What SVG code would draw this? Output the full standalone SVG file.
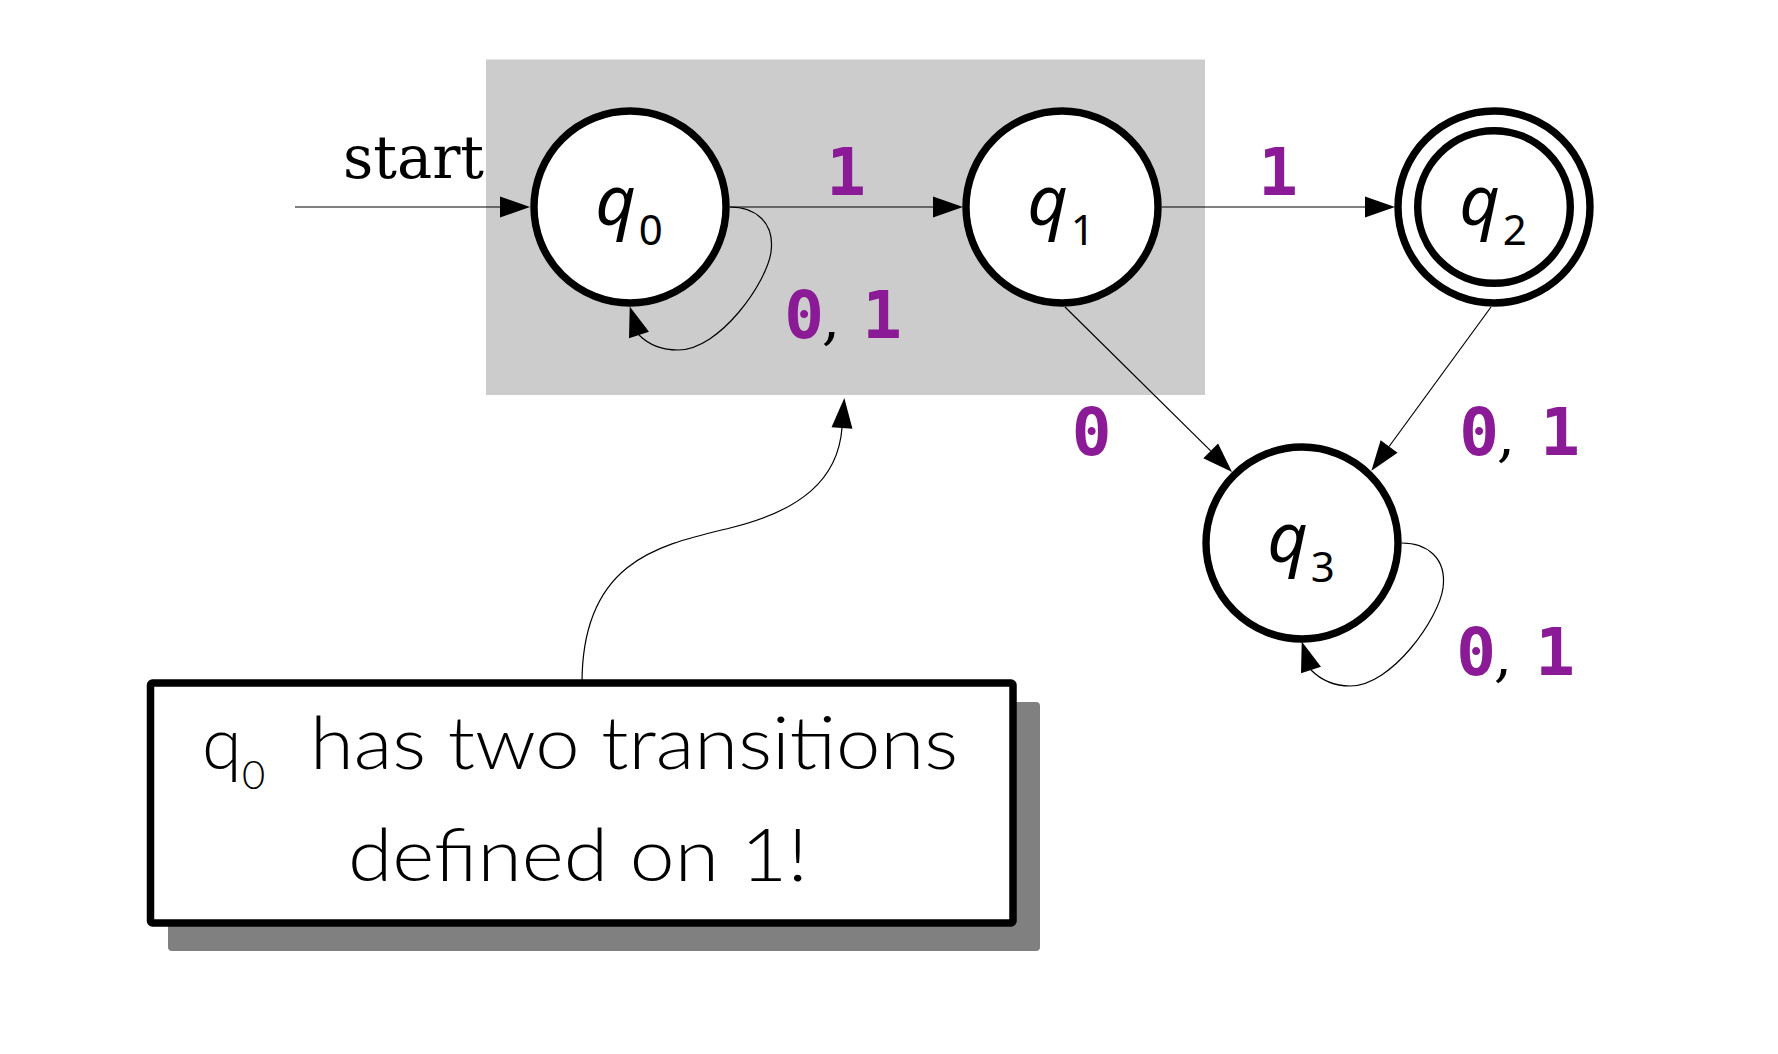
<svg xmlns="http://www.w3.org/2000/svg" width="1778" height="1054" viewBox="0 0 1778 1054">
<style>
.state{fill:#fff;stroke:#000;stroke-width:7.4}
.qlab{font-family:"Noto Sans","DejaVu Sans",sans-serif;font-style:italic;font-size:70px;fill:#000}
.sub{font-style:normal;font-size:42px}
.lbl{font-family:"DejaVu Sans Mono","Liberation Mono",monospace;font-weight:bold;font-size:66px;fill:#8b1a96}
.comma{font-family:"DejaVu Serif","Liberation Serif",serif;font-weight:normal;font-size:58px;fill:#000}
.start{font-family:"DejaVu Serif","Liberation Serif",serif;font-size:59px;fill:#000}
.edge{fill:none;stroke:#000;stroke-width:1.2}
.hand{font-family:Lato,"Open Sans",sans-serif;font-weight:300;font-size:72px;fill:#000}
</style>
<defs>
<marker id="arr" markerUnits="userSpaceOnUse" markerWidth="30" markerHeight="22" viewBox="0 0 30 22" refX="0" refY="11" orient="auto" overflow="visible">
<path d="M0,0.5 L30,11 L0,21.5 Z" fill="#000"/>
</marker>
<marker id="arrLoop" markerUnits="userSpaceOnUse" markerWidth="30" markerHeight="22" viewBox="0 0 30 22" refX="0" refY="11" orient="252" overflow="visible">
<path d="M0,0.5 L30,11 L0,21.5 Z" fill="#000"/>
</marker>
</defs>
<rect width="1778" height="1054" fill="#fff"/>
<rect id="highlight" x="486" y="59.5" width="719" height="335.5" fill="#cccccc"/>

<g id="connectors">
<path class="edge" d="M295,207 H500" marker-end="url(#arr)"/>
<path class="edge" d="M730,207 H933" marker-end="url(#arr)"/>
<path class="edge" d="M1162,207 H1365" marker-end="url(#arr)"/>
<path class="edge" d="M1065,307 L1210.7,450.9" marker-end="url(#arr)"/>
<path class="edge" d="M1491,307 L1389.1,446.5" marker-end="url(#arr)"/>
<path class="edge" d="M729.7,207 C755,207 775,222 771,252 C767,282 720,350 678,350 C660,350 647,343 639,335" marker-end="url(#arrLoop)"/>
<path class="edge" d="M1401.7,543 C1427,543 1447,558 1443,588 C1439,618 1392,686 1350,686 C1332,686 1319,678 1311,670" marker-end="url(#arrLoop)"/>
<path class="edge" d="M582,683 C582,560 660,545 730,528 S838,480 842,428" marker-end="url(#arr)"/>
</g>

<g id="edge-labels">
<text class="lbl" x="846" y="195" text-anchor="middle">1</text>
<text class="lbl" x="1278" y="195" text-anchor="middle">1</text>
<text class="lbl" y="338" text-anchor="middle"><tspan x="804">0</tspan><tspan class="comma" x="831">,</tspan><tspan x="882">1</tspan></text>
<text class="lbl" x="1091.5" y="455" text-anchor="middle">0</text>
<text class="lbl" y="455" text-anchor="middle"><tspan x="1479">0</tspan><tspan class="comma" x="1506">,</tspan><tspan x="1560">1</tspan></text>
<text class="lbl" y="675" text-anchor="middle"><tspan x="1476">0</tspan><tspan class="comma" x="1503">,</tspan><tspan x="1555">1</tspan></text>
</g>

<g id="start-label">
<text class="start" x="343" y="178">start</text>
</g>

<g id="q0">
<circle class="state" cx="630" cy="207" r="96"/>
<text class="qlab" x="629" y="225" text-anchor="middle">q<tspan class="sub" dx="3" dy="20">0</tspan></text>
</g>
<g id="q1">
<circle class="state" cx="1062" cy="207" r="96"/>
<text class="qlab" x="1061" y="225" text-anchor="middle">q<tspan class="sub" dx="3" dy="20">1</tspan></text>
</g>
<g id="q2">
<circle class="state" cx="1494" cy="207" r="96"/>
<circle class="state" cx="1494" cy="207" r="76.3" fill="none"/>
<text class="qlab" x="1493" y="225" text-anchor="middle">q<tspan class="sub" dx="3" dy="20">2</tspan></text>
</g>
<g id="q3">
<circle class="state" cx="1302" cy="543" r="96"/>
<text class="qlab" x="1301" y="562" text-anchor="middle">q<tspan class="sub" dx="3" dy="20">3</tspan></text>
</g>

<g id="note">
<rect x="168" y="702" width="872" height="249" rx="4" fill="#808080"/>
<rect x="150.5" y="683" width="862.5" height="240" rx="2" fill="#fff" stroke="#000" stroke-width="7.5"/>
<text class="hand" x="202" y="769">q<tspan font-size="40" x="242" y="789">0</tspan><tspan x="310" y="769" textLength="648" lengthAdjust="spacingAndGlyphs">has two transitions</tspan></text>
<text class="hand" x="348" y="881" textLength="460" lengthAdjust="spacingAndGlyphs">defined on 1!</text>
</g>
</svg>
